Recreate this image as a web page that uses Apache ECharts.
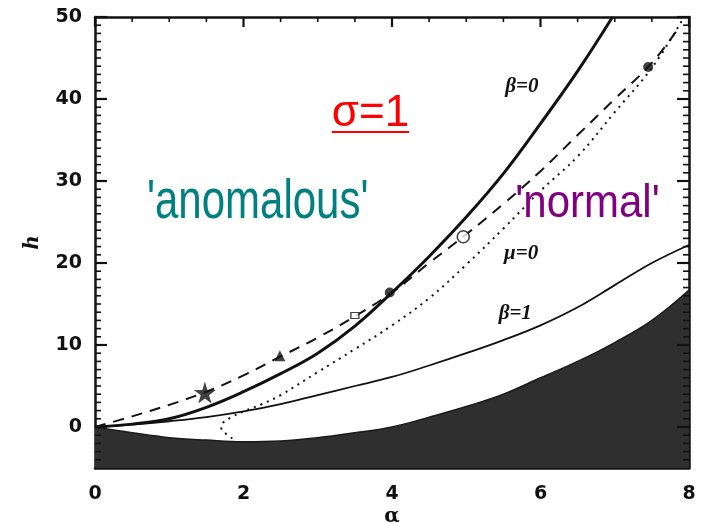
<!DOCTYPE html>
<html>
<head>
<meta charset="utf-8">
<title>h vs alpha</title>
<script src="https://cdn.jsdelivr.net/npm/echarts@6/dist/echarts.min.js"></script>
<style>
  html, body { margin: 0; padding: 0; background: #fff; }
  #chart { width: 704px; height: 523px; }
</style>
</head>
<body>
<div id="chart"></div>
<script>
// tick labels
var alphaTicks = [0, 2, 4, 6, 8];
var hTicks = [0, 10, 20, 30, 40, 50];

// curves, [alpha, h]
var beta0Curve = [[0, 0], [0.5, 0.35], [1, 1.0], [1.5, 2.4], [2, 4.3], [2.5, 6.5], [3, 9.0], [3.5, 12.3], [4, 16.4], [4.5, 20.8], [5, 25.6], [5.5, 30.9], [6, 37.0], [6.5, 43.4], [6.97, 50]];
var beta1Curve = [[0, 0], [0.5, 0.3], [1, 0.7], [1.5, 1.2], [2, 1.9], [2.5, 2.8], [3, 3.9], [3.5, 5.0], [4, 6.1], [4.5, 7.5], [5, 9.0], [5.5, 10.6], [6, 12.4], [6.5, 14.6], [7, 17.3], [7.5, 20.0], [8, 22.2]];
var dashedCurve = [[0, 0], [0.5, 1.3], [1, 2.7], [1.5, 4.3], [2, 6.3], [2.5, 8.6], [3, 10.9], [3.5, 13.5], [4, 16.4], [4.5, 20.0], [5, 23.5], [5.5, 27.2], [6, 31.2], [6.5, 35.6], [7, 40.0], [7.5, 44.4], [7.87, 48.8]];
var mu0Curve = [[1.85, -1.4], [1.76, -0.8], [1.70, -0.1], [1.72, 0.5], [1.82, 1.1], [2.0, 1.9], [2.25, 2.8], [2.5, 3.9], [3, 6.7], [3.5, 9.5], [4, 12.4], [4.5, 15.7], [5, 19.8], [5.5, 24.2], [6, 28.8], [6.5, 33.0], [7, 38.4], [7.5, 43.8], [7.9, 49.5]];
var shadeEdge = [[0, 0], [0.5, -0.7], [1, -1.3], [1.5, -1.6], [2, -1.8], [2.5, -1.7], [3, -1.3], [3.5, -0.7], [4, 0], [4.5, 1.2], [5, 2.5], [5.5, 4.0], [6, 6.0], [6.5, 8.0], [7, 10.3], [7.5, 13.0], [8, 16.7]];

// marked points on the dashed curve
var markPts = [[1.48, 4.2], [2.49, 8.7], [3.5, 13.6], [3.97, 16.4], [4.96, 23.2], [7.45, 43.9]];
var markSyms = ['star', 'triangle', 'rect', 'circle', 'emptyCircle', 'circle'];

// frame ticks: every 0.5 along alpha, every 1 along h
var alphaFrameTicks = [];
for (var t = 0; t <= 8; t += 0.5) alphaFrameTicks.push(t);
var hFrameTicks = [];
for (var v = -4; v <= 50; v++) hFrameTicks.push(v);

var STAR = 'path://M50,0 L61,35 L98,35 L68,57 L79,91 L50,70 L21,91 L32,57 L2,35 L39,35 Z';
var INK = '#111';

var chart = echarts.init(document.getElementById('chart'));

function markData() {
    return markPts.map(function(p, i) {
        var s = markSyms[i];
        var item = { value: p };
        if (s === 'star') {
            item.symbol = STAR; item.symbolSize = 22;
        } else if (s === 'triangle') {
            item.symbol = 'triangle'; item.symbolSize = 11;
        } else if (s === 'rect') {
            item.symbol = 'rect'; item.symbolSize = [8, 6];
            item.itemStyle = { color: '#fff', borderColor: INK, borderWidth: 1.2 };
        } else if (s === 'emptyCircle') {
            item.symbol = 'circle'; item.symbolSize = 12;
            item.itemStyle = { color: '#fff', borderColor: INK, borderWidth: 1.6 };
        } else {
            item.symbol = 'circle'; item.symbolSize = 10;
        }
        return item;
    });
}

var axisFont = { fontFamily: 'DejaVu Sans', fontWeight: 'bold', fontSize: 19 };

function onlyIn(list, show) {
    return function(val) {
        return show && list.indexOf(val) >= 0 ? String(val) : '';
    };
}

function xAxisOf(pos, labels) {
    return {
        type: 'value', position: pos, min: 0, max: 8, interval: 2,
        axisLine: { show: true, onZero: false, lineStyle: { color: INK, width: 2.5 } },
        axisTick: { show: false },
        axisLabel: Object.assign({ show: labels, margin: 17, color: INK, formatter: onlyIn(alphaTicks, labels) }, axisFont),
        splitLine: { show: false },
        name: labels ? 'α' : '', nameLocation: 'middle', nameGap: 39, nameMoveOverlap: false,
        nameTextStyle: { fontFamily: 'DejaVu Serif', fontWeight: 'bold', fontSize: 20, color: INK }
    };
}

function yAxisOf(pos, labels) {
    return {
        type: 'value', position: pos, min: -5, max: 50, interval: 5,
        axisLine: { show: true, onZero: false, lineStyle: { color: INK, width: 2.5 } },
        axisTick: { show: false },
        axisLabel: Object.assign({ show: labels, margin: 13, color: INK, formatter: onlyIn(hTicks, labels) }, axisFont),
        splitLine: { show: false },
        name: labels ? 'h' : '', nameLocation: 'middle', nameGap: 52, nameRotate: 90, nameMoveOverlap: false,
        nameTextStyle: { fontFamily: 'DejaVu Serif', fontStyle: 'italic', fontWeight: 'bold', fontSize: 20, color: INK }
    };
}

function curve(data, width, type) {
    return {
        type: 'line', data: data, smooth: 0.4, symbol: 'none', silent: true,
        lineStyle: { color: INK, width: width, type: type }, z: 3
    };
}

// tick marks drawn inward from the frame, placed by the axes' own scales
function tickSeries(data, side) {
    return {
        type: 'custom', data: data, silent: true, clip: false, z: 6,
        renderItem: function(params, api) {
            var val = api.value(0);
            var box = params.coordSys;
            var len, x1, y1, x2, y2, pt;
            if (side === 'top') {
                pt = api.coord([val, 50]);
                len = val % 2 === 0 ? 10 : 5;
                x1 = x2 = pt[0]; y1 = box.y; y2 = box.y + len;
            } else {
                pt = api.coord([0, val]);
                len = val % 10 === 0 ? 12 : 6;
                y1 = y2 = pt[1];
                if (side === 'left') {
                    x1 = box.x; x2 = box.x + len;
                } else {
                    x1 = box.x + box.width; x2 = x1 - len;
                }
            }
            return {
                type: 'line',
                shape: { x1: x1, y1: y1, x2: x2, y2: y2 },
                style: { stroke: INK, lineWidth: len > 8 ? 2.2 : 1.6 }
            };
        }
    };
}

chart.setOption({
    animation: false,
    grid: { left: 95, right: 15, top: 17, bottom: 55, outerBoundsMode: 'none', containLabel: false },
    xAxis: [xAxisOf('bottom', true), xAxisOf('top', false)],
    yAxis: [yAxisOf('left', true), yAxisOf('right', false)],
    series: [
        {
            type: 'line', data: shadeEdge, smooth: 0.4, symbol: 'none', silent: true,
            lineStyle: { color: '#1a1a1a', width: 1.5 },
            areaStyle: { origin: 'start', color: '#2f2f2f', opacity: 1 }, z: 2
        },
        curve(beta1Curve, 1.8, 'solid'),
        curve(mu0Curve, 2, [2, 5]),
        curve(dashedCurve, 2, [11, 8]),
        curve(beta0Curve, 3, 'solid'),
        {
            type: 'scatter', data: markData(), itemStyle: { color: INK }, z: 5, silent: true
        },
        tickSeries(alphaFrameTicks.map(function(a) { return [a, 50]; }), 'top'),
        tickSeries(hFrameTicks.map(function(h) { return [h, 0]; }), 'left'),
        tickSeries(hFrameTicks.map(function(h) { return [h, 0]; }), 'right')
    ]
});

// notes on the plot, anchored in data coordinates
var notes = [
    { text: 'β=0', at: [5.75, 41.5] },
    { text: 'μ=0', at: [5.74, 21.2] },
    { text: 'β=1', at: [5.66, 13.8] }
];
var bigNotes = [
    { text: "'anomalous'", at: [0.7, 24.0], size: 42, color: '#008080', sy: 1.3 },
    { text: "'normal'", at: [5.66, 24.4], size: 42, color: '#800080', sy: 1.1 },
    { text: 'σ=1', at: [3.19, 35.5], size: 44, color: '#ff0000', sy: 1.0, underline: true }
];

var elements = [];
notes.forEach(function(n) {
    var p = chart.convertToPixel({ xAxisIndex: 0, yAxisIndex: 0 }, n.at);
    elements.push({
        type: 'text', x: p[0], y: p[1], z: 10,
        style: { text: n.text, font: 'italic bold 21px "Liberation Serif"', fill: INK, align: 'center', verticalAlign: 'middle' }
    });
});
bigNotes.forEach(function(n) {
    var p = chart.convertToPixel({ xAxisIndex: 0, yAxisIndex: 0 }, n.at);
    elements.push({
        type: 'text', x: p[0], y: p[1], scaleY: n.sy, z: 10,
        style: { text: n.text, font: n.size + 'px "Liberation Sans"', fill: n.color, align: 'left', verticalAlign: 'bottom' }
    });
    if (n.underline) {
        var w = echarts.format.getTextRect ? echarts.format.getTextRect(n.text, n.size + 'px "Liberation Sans"').width : 81;
        elements.push({
            type: 'line', z: 10,
            shape: { x1: p[0], y1: p[1] - 4, x2: p[0] + w, y2: p[1] - 4 },
            style: { stroke: n.color, lineWidth: 2 }
        });
    }
});
chart.setOption({ graphic: elements });
</script>
</body>
</html>
